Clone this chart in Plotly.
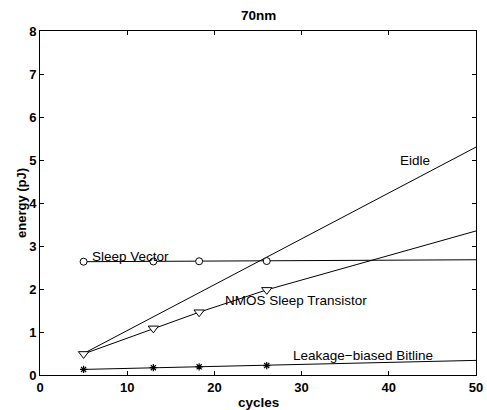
import plotly.graph_objects as go

cycles = [5, 13, 18.25, 26, 50]
eidle_x = [5, 50]
eidle_y = [0.5, 5.3]
sleep_vector = [2.635, 2.64, 2.645, 2.65, 2.68]
nmos_sleep = [0.49, 1.085, 1.46, 1.98, 3.35]
leakage_bitline = [0.13, 0.17, 0.19, 0.22, 0.34]
marker_x = cycles[:4]

x_ticks = [0, 10, 20, 30, 40, 50]
y_ticks = [0, 1, 2, 3, 4, 5, 6, 7, 8]

FONT = "Liberation Sans, Arial, Helvetica, sans-serif"
LW = 1

fig = go.Figure()

# Eidle line (no markers)
fig.add_trace(go.Scatter(x=eidle_x, y=eidle_y, mode="lines",
                         line=dict(color="black", width=LW)))

def series(yvals, symbol, size):
    fig.add_trace(go.Scatter(x=cycles, y=yvals, mode="lines",
                             line=dict(color="black", width=LW)))
    fig.add_trace(go.Scatter(x=marker_x, y=yvals[:4], mode="markers",
                             marker=dict(symbol=symbol, size=size, color="white",
                                         line=dict(color="black", width=1))))

series(sleep_vector, "circle", 7)
series(nmos_sleep, "triangle-down", 9)
fig.add_trace(go.Scatter(x=cycles, y=leakage_bitline, mode="lines",
                         line=dict(color="black", width=LW)))
fig.add_trace(go.Scatter(x=marker_x, y=leakage_bitline[:4], mode="markers",
                         marker=dict(symbol="asterisk-open", size=6, color="black",
                                     line=dict(color="black", width=1.2))))

labels = [
    ("Eidle", 43.0, 4.98, "center"),
    ("Sleep Vector", 5.75, 2.75, "left"),
    ("NMOS Sleep Transistor", 21.0, 1.73, "left"),
    ("Leakage\u2212biased Bitline", 28.75, 0.46, "left"),
]
for txt, x, y, anc in labels:
    fig.add_annotation(x=x, y=y, text=txt, showarrow=False, xanchor=anc,
                       yanchor="middle", font=dict(family=FONT, size=13.5, color="black"))

# Title and axis labels
fig.add_annotation(xref="paper", yref="paper", x=0.5, y=1, yshift=16, text="<b>70nm</b>",
                   showarrow=False, xanchor="center", yanchor="middle",
                   font=dict(family=FONT, size=13.5, color="black"))
fig.add_annotation(xref="paper", yref="paper", x=0.5, y=0, yshift=-27, text="<b>cycles</b>",
                   showarrow=False, xanchor="center", yanchor="middle",
                   font=dict(family=FONT, size=13.5, color="black"))
fig.add_annotation(xref="paper", yref="paper", x=0, y=0.5, xshift=-19, text="<b>energy (pJ)</b>",
                   textangle=-90, showarrow=False, xanchor="center", yanchor="middle",
                   font=dict(family=FONT, size=13, color="black"))

axis_common = dict(showgrid=False, zeroline=False, showline=True, linecolor="black",
                   linewidth=1, mirror="allticks", ticks="inside", ticklen=4,
                   tickcolor="black", tickwidth=1, automargin=False,
                   tickfont=dict(family=FONT, size=13, color="black", weight="bold"))

fig.update_layout(
    template="none",
    width=487, height=410,
    margin=dict(l=40, r=11, t=31, b=35, autoexpand=False),
    paper_bgcolor="white", plot_bgcolor="white",
    showlegend=False,
    xaxis=dict(range=[0, 50], tickvals=x_ticks, **axis_common),
    yaxis=dict(range=[0, 8], tickvals=y_ticks, **axis_common),
)

fig.write_html("out.html")
